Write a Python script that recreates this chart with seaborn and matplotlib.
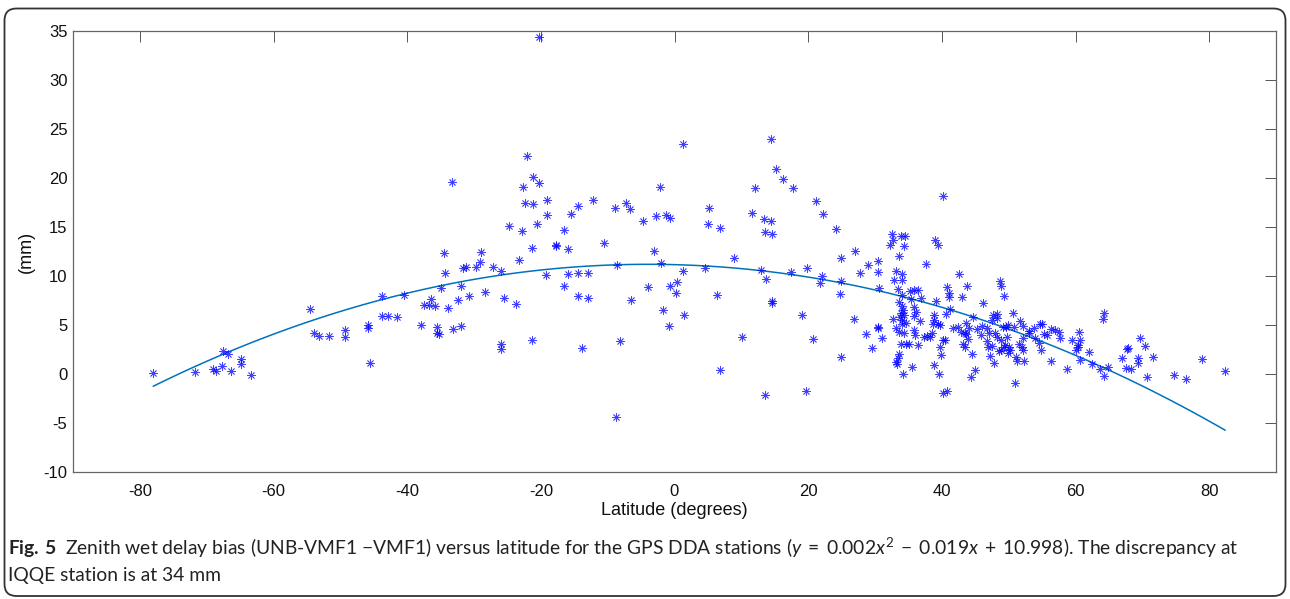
import numpy as np
import pandas as pd
import matplotlib
matplotlib.use("Agg")
import matplotlib.pyplot as plt
from matplotlib.patches import FancyBboxPatch
from matplotlib.transforms import IdentityTransform
import seaborn as sns

# ---- data (latitude in degrees, ZWD bias in mm) ----
lat_south = [-78.0, -71.7, -69.1, -68.6, -67.7, -67.6, -66.8, -66.4, -64.8, -64.8, -63.3,
             -54.6, -53.9, -53.2, -51.7, -49.3, -49.3, -45.9, -45.9, -45.6, -43.7, -43.7,
             -42.9, -41.5, -40.4, -37.9, -37.5, -36.8, -36.5, -35.9, -35.5, -35.5, -35.3,
             -35.0, -34.5, -34.3, -33.9, -33.3, -33.1, -32.4, -31.9, -31.9, -31.7, -31.2,
             -30.8, -29.7, -29.1, -28.9, -28.3]
bias_south = [0.1, 0.2, 0.5, 0.3, 0.8, 2.3, 2.0, 0.35, 1.5, 1.0, -0.1,
              6.6, 4.15, 3.9, 3.9, 4.5, 3.8, 5.0, 4.7, 1.15, 8.0, 5.9,
              5.95, 5.8, 8.06, 5.0, 7.0, 7.04, 7.65, 6.9, 4.8, 4.2, 4.08,
              8.74, 12.3, 10.3, 6.7, 19.6, 4.56, 7.6, 8.95, 4.87, 10.85, 10.9,
              7.96, 10.9, 11.4, 12.4, 8.4]

lat_tropic = [-27.2, -26.0, -26.0, -25.9, -25.5, -24.8, -23.7, -23.2, -22.8, -22.7, -22.3,
              -22.0, -21.3, -21.3, -21.2, -21.1, -20.6, -20.3, -20.3, -19.3, -19.1, -19.1,
              -17.7, -17.7, -16.5, -16.5, -16.0, -16.0, -15.5, -14.4, -14.4, -14.4, -13.9,
              -13.0, -12.9, -12.25, -10.6, -8.85, -8.8, -8.66, -8.1, -7.3, -6.7, -6.56,
              -4.76, -4.0, -3.1, -2.7, -2.2, -2.0, -1.77, -1.3, -0.8, -0.7, -0.6,
              0.22, 0.33, 1.23, 1.27, 1.38,
              4.57, 5.0, 5.2, 6.3, 6.8, 6.87, 8.97, 10.06, 11.56, 12.1, 12.9, 13.36,
              13.5, 13.6, 13.66, 14.5, 14.5, 14.56, 14.56, 14.56, 15.16, 16.25, 17.4,
              17.75, 19.15, 19.7, 19.9, 20.65, 21.2, 21.8, 22.1, 22.15, 24.2, 24.7,
              24.85, 24.9, 24.9, 26.8, 27.0, 27.7, 28.7, 29.0, 29.6, 30.5, 30.5, 30.5,
              30.5, 30.6, 31.0]
bias_tropic = [10.9, 3.03, 2.58, 10.5, 7.8, 15.07, 7.14, 11.6, 14.6, 19.05, 17.4,
               22.2, 12.9, 3.44, 17.3, 20.1, 15.3, 19.5, 34.4, 10.1, 17.75, 16.2,
               13.2, 13.1, 14.7, 9.0, 12.8, 10.2, 16.3, 17.1, 10.27, 7.96, 2.65,
               7.8, 10.27, 17.8, 13.4, 16.9, -4.35, 11.15, 3.33, 17.4, 16.8, 7.5,
               15.6, 8.9, 12.6, 16.1, 19.05, 11.36, 6.5, 16.2, 4.87, 15.9, 9.0,
               8.3, 9.4, 23.5, 10.5, 6.0,
               10.85, 15.34, 16.9, 8.03, 0.37, 14.93, 11.8, 3.74, 16.4, 18.95, 10.58, 15.8,
               14.46, -2.14, 9.66, 24.0, 15.65, 14.3, 7.45, 7.28, 20.9, 19.9, 10.44,
               19.0, 6.0, -1.73, 10.78, 3.57, 17.65, 9.25, 10.0, 16.36, 14.8, 8.2,
               11.84, 9.46, 1.77, 5.6, 12.55, 10.34, 4.1, 11.15, 2.62, 11.5, 10.44, 4.83,
               4.66, 8.74, 3.64]

lat_north = [32.3, 32.6, 32.7, 32.7, 32.8, 33.1, 33.1, 33.2, 33.3, 33.4, 33.5, 33.6, 33.6,
             33.6, 33.6, 33.7, 33.9, 33.9, 33.9, 34.0, 34.0, 34.0, 34.0, 34.1, 34.1, 34.2,
             34.2, 34.3, 34.3, 34.4, 34.5, 34.6, 34.7, 35.1, 35.2, 35.4, 35.6, 35.8, 35.9,
             35.9, 35.9, 36.0, 36.1, 36.5, 36.5, 36.8, 36.9, 37.3, 37.7, 37.8, 38.3, 38.5,
             38.7, 38.9, 38.9, 38.9, 39.0, 39.2, 39.4, 39.5, 39.6, 39.7, 39.8, 39.9, 40.2,
             40.2, 40.2, 40.5, 40.6, 40.7, 40.8, 41.0, 41.0, 41.2, 41.7, 42.4, 42.6, 42.8,
             43.0, 43.1, 43.4, 43.5, 43.6, 43.6, 43.7, 43.9, 44.1, 44.3, 44.5, 44.7, 45.0,
             45.3, 45.9, 46.0, 46.1, 46.7, 46.8, 46.9, 47.0, 47.2, 47.5, 47.5, 47.7, 47.8,
             48.0, 48.2, 48.3, 48.3, 48.5, 48.7, 48.8, 48.9, 48.9, 49.1, 49.3, 49.3, 49.45,
             49.6, 49.7, 49.9, 49.9]
bias_north = [13.2, 14.25, 13.7, 5.61, 9.6, 10.5, 1.26, 4.73, 1.02, 1.67, 8.64, 12.07, 7.38,
              4.25, 2.04, 5.79, 14.1, 6.19, 3.03, 10.2, 9.6, 6.94, 5.07, 8.06, 5.51, 6.53,
              -0.03, 6.02, 4.18, 13.06, 14.1, 5.24, 3.1, 3.06, 8.5, 7.65, 0.75, 5.89, 8.54,
              6.8, 4.49, 4.01, 6.36, 8.54, 2.93, 5.44, 7.79, 3.74, 11.2, 3.91, 3.74, 4.15,
              5.1, 6.02, 5.51, 0.89, 13.67, 7.45, 13.2, 5.07, -0.03, 5.0, 2.79, 1.9, 18.16,
              3.44, -1.9, 3.44, 6.09, 8.84, -1.77, 8.27, 7.89, 6.63, 4.66, 4.83, 10.2, 4.25,
              7.89, 3.03, 4.21, 2.79, 5.2, 4.08, 8.98, 3.57, 4.73, -0.34, 2.0, 5.79, 0.41,
              4.56, 3.98, 4.9, 7.24, 3.33, 4.73, 2.79, 4.21, 1.84, 5.51, 2.89, 6.02, 1.09,
              4.15, 5.68, 6.12, 3.74, 2.38, 9.52, 8.98, 3.47, 2.45, 4.76, 7.99, 2.79, 2.96,
              4.83, 3.81, 5.03, 2.11]

lat_high = [50.1, 50.2, 50.6, 50.8, 51.0, 51.1, 51.3, 51.6, 51.7, 52.0, 52.1, 52.2, 52.2,
            52.3, 53.0, 53.0, 53.8, 54.0, 54.6, 54.7, 54.8, 55.0, 55.3, 55.7, 56.4, 56.4,
            56.9, 57.5, 57.7, 58.8, 59.5, 60.1, 60.3, 60.4, 60.5, 60.6, 60.7, 62.0, 62.4,
            63.7, 64.1, 64.2, 64.3, 64.9, 66.9, 67.5, 67.7, 67.8, 68.3, 69.3, 69.4, 69.6,
            70.4, 70.7, 71.6, 74.7, 76.5, 78.9, 82.4]
bias_high = [2.79, 2.45, 6.19, 4.8, -0.89, 1.7, 1.36, 3.06, 5.44, 2.72, 2.45, 4.9, 3.64,
             1.36, 4.36, 4.15, 4.66, 3.64, 3.13, 5.1, 2.45, 5.1, 4.05, 3.98, 4.59, 1.36,
             4.49, 4.32, 3.64, 0.54, 3.5, 2.45, 2.96, 2.72, 4.32, 3.47, 1.43, 2.28, 1.02,
             0.51, 5.58, 6.19, -0.2, 0.75, 1.67, 0.64, 2.58, 2.65, 0.47, 1.67, 1.09, 3.7,
             2.86, -0.27, 1.77, -0.1, -0.48, 1.53, 0.34]

x_ticks = [-80, -60, -40, -20, 0, 20, 40, 60, 80]
y_ticks = [-10, -5, 0, 5, 10, 15, 20, 25, 30, 35]

df = pd.DataFrame({
    "lat": lat_south + lat_tropic + lat_north + lat_high,
    "bias": bias_south + bias_tropic + bias_north + bias_high,
})

sns.set_theme(style="white")
plt.rcParams["font.family"] = ["Liberation Sans", "DejaVu Sans"]
plt.rcParams["mathtext.fontset"] = "custom"
plt.rcParams["mathtext.rm"] = "Lato"
plt.rcParams["mathtext.it"] = "Lato:italic"
plt.rcParams["mathtext.bf"] = "Lato:bold"

W, H = 1290, 599
fig = plt.figure(figsize=(W / 100, H / 100), dpi=100)
ax = fig.add_axes([73 / W, 1 - 472 / H, (1276 - 73) / W, (472 - 31) / H])

sns.regplot(data=df, x="lat", y="bias", order=2, ci=None, scatter=False, ax=ax,
            line_kws=dict(color="#0072BD", lw=1.1))
sns.scatterplot(data=df, x="lat", y="bias", ax=ax, marker=(8, 2, 0), s=30,
                color="#0000FF", edgecolor="#0000FF", linewidth=0.6, alpha=0.75,
                zorder=3)

ax.set_xlim(-90, 90)
ax.set_ylim(-10, 35)
ax.set_xticks(x_ticks)
ax.set_yticks(y_ticks)
ax.set_xticklabels([str(t) for t in x_ticks])
ax.set_yticklabels([str(t) for t in y_ticks])
ax.tick_params(direction="in", length=8, width=0.7, color="#555555",
               top=True, right=True, labelsize=12, labelcolor="#111111")
ax.tick_params(axis="x", pad=9)
ax.tick_params(axis="y", pad=4)
for sp in ax.spines.values():
    sp.set_visible(True)
    sp.set_color("#666666")
    sp.set_linewidth(0.9)

ax.set_xlabel("Latitude (degrees)", fontsize=13, color="#111111", labelpad=2)
ax.set_ylabel("(mm)", fontsize=13, color="#111111", labelpad=6)

cap_font = ["Lato", "DejaVu Sans"]
line1 = ("$\\mathbf{Fig.\\,5}$  Zenith wet delay bias (UNB-VMF1 \u2212VMF1) versus latitude for the "
         "GPS DDA stations ($y\\;=\\;0.002x^{2}\\;-\\;0.019x\\;+\\;10.998$). The discrepancy at")
fig.text(8 / W, 1 - 548 / H, line1, fontsize=13.9, family=cap_font, va="center",
         ha="left", color="#222222")
fig.text(8 / W, 1 - 576 / H, "IQQE station is at 34 mm", fontsize=13.9, family=cap_font,
         va="center", ha="left", color="#222222")

border = FancyBboxPatch((4.5, 3), W - 9, H - 11.5,
                        boxstyle="round,pad=0,rounding_size=12",
                        transform=IdentityTransform(), fill=False,
                        edgecolor="#333333", linewidth=1.3)
fig.patches.append(border)

fig.savefig("out.png", dpi=100)
